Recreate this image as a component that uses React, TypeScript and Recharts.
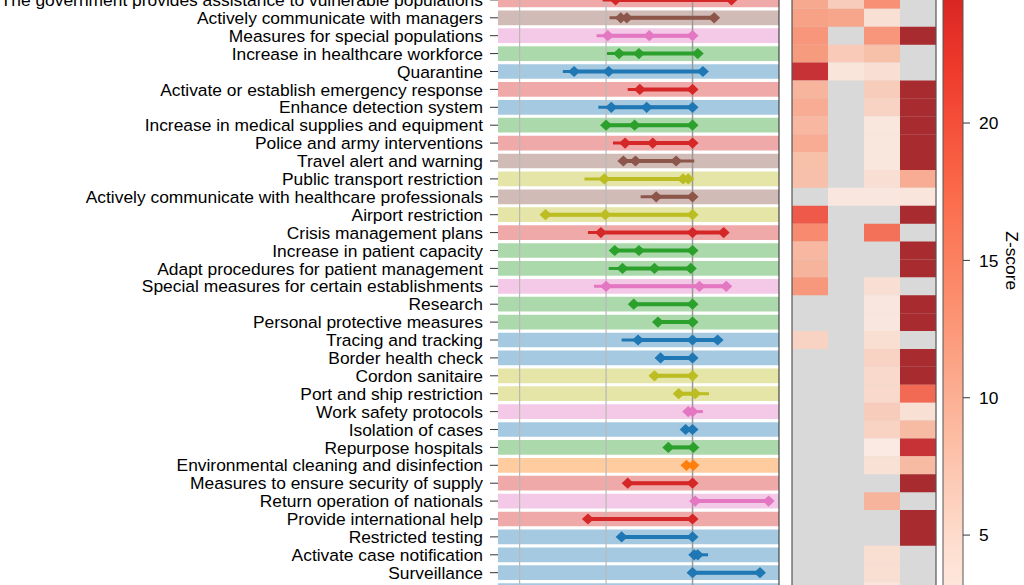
import React from 'react';
import { ScatterChart, Scatter, XAxis, YAxis, ReferenceArea, ReferenceLine } from 'recharts';

const measures = [
  'The government provides assistance to vulnerable populations',
  'Actively communicate with managers',
  'Measures for special populations',
  'Increase in healthcare workforce',
  'Quarantine',
  'Activate or establish emergency response',
  'Enhance detection system',
  'Increase in medical supplies and equipment',
  'Police and army interventions',
  'Travel alert and warning',
  'Public transport restriction',
  'Actively communicate with healthcare professionals',
  'Airport restriction',
  'Crisis management plans',
  'Increase in patient capacity',
  'Adapt procedures for patient management',
  'Special measures for certain establishments',
  'Research',
  'Personal protective measures',
  'Tracing and tracking',
  'Border health check',
  'Cordon sanitaire',
  'Port and ship restriction',
  'Work safety protocols',
  'Isolation of cases',
  'Repurpose hospitals',
  'Environmental cleaning and disinfection',
  'Measures to ensure security of supply',
  'Return operation of nationals',
  'Provide international help',
  'Restricted testing',
  'Activate case notification',
  'Surveillance',
  'National lockdown',
];

const themeOf = [
  'red', 'brown', 'pink', 'green', 'blue', 'red', 'blue', 'green', 'red', 'brown',
  'olive', 'brown', 'olive', 'red', 'green', 'green', 'pink', 'green', 'green', 'blue',
  'blue', 'olive', 'olive', 'pink', 'blue', 'green', 'orange', 'red', 'pink', 'red',
  'blue', 'blue', 'blue', 'blue',
];

const rangeLo = [
  -1.04, -0.96, -1.11, -0.99, -1.5, -0.75, -1.09, -1.03, -0.92, -0.84,
  -1.25, -0.6, -1.75, -1.21, -0.94, -0.97, -1.14, -0.68, -0.4, -0.82,
  -0.37, -0.44, -0.16, -0.05, -0.08, -0.28, -0.07, -0.75, 0.03, -1.21,
  -0.82, 0.02, 0.0, null,
];
const rangeHi = [
  0.45, 0.25, 0.0, 0.06, 0.12, 0.0, 0.0, 0.0, 0.0, 0.02,
  0.0, 0.0, 0.0, 0.36, 0.0, -0.02, 0.39, 0.0, 0.0, 0.29,
  0.0, 0.0, 0.19, 0.12, 0.0, 0.01, 0.01, 0.0, 0.88, 0.0,
  0.0, 0.18, 0.78, null,
];
const effects: number[][] = [
  [-0.89, 0.45], [-0.83, -0.76, 0.25], [-0.98, -0.5, 0.0], [-0.85, -0.62, 0.06],
  [-1.37, -0.97, 0.12], [-0.61, 0.0], [-0.94, -0.53, 0.0], [-1.0, -0.67, 0.0],
  [-0.78, -0.46, 0.0], [-0.8, -0.66, -0.19], [-1.02, -0.11, -0.05], [-0.42, 0.0],
  [-1.7, -1.01, 0.0], [-1.06, 0.0, 0.36], [-0.9, -0.62, 0.0], [-0.81, -0.44, -0.02],
  [-1.0, 0.08, 0.39], [-0.68, 0.0], [-0.4, 0.0], [-0.63, 0.0, 0.29],
  [-0.37, 0.0], [-0.44, 0.0], [-0.16, 0.03], [-0.05, 0.0],
  [-0.08, 0.0], [-0.28, 0.01], [-0.07, 0.01], [-0.75, 0.0],
  [0.03, 0.88], [-1.21, 0.0], [-0.82, 0.0], [0.02, 0.06], [0.0, 0.78], [],
];

const zCol1 = [11.5, 12.5, 14, 13.3, 27.3, 10, 11.2, 9.8, 11.2, 8.8, 8.7, null, 21, 15.4, 9.8, 10.2, 13.7,
  null, null, 6, null, null, null, null, null, null, null, null, null, null, null, null, null, null];
const zCol2 = [7, 12, null, 7.3, 3.2, null, null, null, null, null, null, 2.5, null, null, null, null, null,
  null, null, null, null, null, null, null, null, null, null, null, null, null, null, null, null, null];
const zCol3 = [14.7, 4.2, 14, 8.8, 4.4, 7, 6, 2.8, 2.8, 2.8, 4.4, 2.5, null, 18.5, null, null, 4.4,
  2.4, 2.4, 4.5, 6, 5.3, 5.3, 7, 6, 1.8, 3.9, null, 10.2, null, null, 4.5, 4.5, 3];
const zCol4 = [null, null, 31, null, null, 31, 31, 31, 31, 31, 11.2, 2.9, 31, null, 31, 31, null,
  31, 31, null, 31, 31, 19.3, 4.2, 9.5, 27.3, 9.5, 31, null, 31, 31, null, null, null];
const zColumns = [zCol1, zCol2, zCol3, zCol4];

const xGrid = [-2, -1];
const xZero = 0;
const xDomain: [number, number] = [-2.25, 1];
const zTicks = [5, 10, 15, 20];
const zDomain: [number, number] = [0, 35];

const TAB: Record<string, string> = {
  blue: '#1f77b4', orange: '#ff7f0e', green: '#2ca02c', red: '#d62728',
  pink: '#e377c2', olive: '#bcbd22', brown: '#8c564b',
};
const REDS = ['#fff5f0', '#fee0d2', '#fcbba1', '#fc9272', '#fb6a4a', '#ef3b2c', '#cb181d', '#a50f15', '#67000d'];

function hexToRgb(h: string) {
  return [parseInt(h.slice(1, 3), 16), parseInt(h.slice(3, 5), 16), parseInt(h.slice(5, 7), 16)];
}
function reds(v: number) {
  const f = Math.max(0, Math.min(1, (v - zDomain[0]) / (zDomain[1] - zDomain[0])));
  const p = f * (REDS.length - 1);
  const i = Math.min(REDS.length - 2, Math.floor(p));
  const t = p - i;
  const a = hexToRgb(REDS[i]);
  const b = hexToRgb(REDS[i + 1]);
  const c = a.map((x, k) => Math.round(x + (b[k] - x) * t));
  return `rgb(${c[0]},${c[1]},${c[2]})`;
}

const FONT = '"Liberation Sans", Arial, Helvetica, sans-serif';
const FS = 17.4;
const ROW = 17.9;
const rowIdx = measures.map((_, i) => i);
const yDomain: [number, number] = [-1, 34];
const PLOT_H = (yDomain[1] - yDomain[0]) * ROW;
const MT = 10;
const CHART_TOP = -ROW - MT;
const CHART_H = PLOT_H + 2 * MT;

const Diamond = (props: any) => {
  const { cx, cy, fill } = props;
  if (cx == null || cy == null) return <g />;
  const rx = 6;
  const ry = 5.6;
  return <polygon points={`${cx},${cy - ry} ${cx + rx},${cy} ${cx},${cy + ry} ${cx - rx},${cy}`} fill={fill} />;
};
const NoMark = () => <g />;

export default function App() {
  const thin = rowIdx
    .filter((r) => rangeLo[r] != null)
    .map((r) => ({ r, data: [{ x: rangeLo[r] as number, y: r }, { x: rangeHi[r] as number, y: r }] }));
  const thick = rowIdx
    .filter((r) => effects[r].length > 0)
    .map((r) => ({ r, data: [...effects[r]].sort((a, b) => a - b).map((x) => ({ x, y: r })) }));

  // colorbar geometry: value 20 at y=123, 27.47 px per unit
  const PX = 27.47;
  const cbPlotTop = 123 - (zDomain[1] - 20) * PX;
  const cbPlotH = (zDomain[1] - zDomain[0]) * PX;
  const CB_MT = 5;

  return (
    <div style={{ position: 'fixed', left: 0, top: 0, width: 1024, height: 585, overflow: 'hidden', background: '#fff', fontFamily: FONT }}>
      <ScatterChart
        width={1024}
        height={CHART_H}
        margin={{ top: MT, bottom: MT, left: 0, right: 245 }}
        style={{ position: 'absolute', left: 0, top: CHART_TOP }}
      >
        <XAxis type="number" dataKey="x" domain={xDomain} hide allowDataOverflow />
        <YAxis
          type="number"
          dataKey="y"
          domain={yDomain}
          reversed
          allowDataOverflow
          ticks={rowIdx}
          interval={0}
          width={498}
          tickSize={8}
          tickMargin={7}
          axisLine={false}
          tickLine={{ stroke: '#333', strokeWidth: 1 }}
          tick={{ fontSize: FS, fill: '#000', fontFamily: FONT }}
          tickFormatter={(v: number) => measures[v] ?? ''}
        />
        {rowIdx.map((r) => (
          <ReferenceArea
            key={`band${r}`}
            x1={xDomain[0]}
            x2={xDomain[1]}
            y1={r - 0.41}
            y2={r + 0.41}
            fill={TAB[themeOf[r]]}
            fillOpacity={0.4}
            stroke="none"
          />
        ))}
        {xGrid.map((g) => (
          <ReferenceLine key={`g${g}`} x={g} stroke="#b8b8b8" strokeWidth={1.2} />
        ))}
        <ReferenceLine x={xZero} stroke="#999" strokeWidth={1.5} />
        <ReferenceLine x={xDomain[1]} stroke="#444" strokeWidth={1.2} />
        {thin.map(({ r, data }) => (
          <Scatter
            key={`thin${r}`}
            data={data}
            fill={TAB[themeOf[r]]}
            line={{ stroke: TAB[themeOf[r]], strokeWidth: 3 }}
            shape={NoMark}
            isAnimationActive={false}
          />
        ))}
        {thick.map(({ r, data }) => (
          <Scatter
            key={`thick${r}`}
            data={data}
            fill={TAB[themeOf[r]]}
            line={{ stroke: TAB[themeOf[r]], strokeWidth: 4 }}
            shape={Diamond}
            isAnimationActive={false}
          />
        ))}
      </ScatterChart>

      <ScatterChart
        width={148}
        height={CHART_H}
        margin={{ top: MT, bottom: MT, left: 2, right: 2 }}
        style={{ position: 'absolute', left: 790, top: CHART_TOP }}
      >
        <XAxis type="number" dataKey="x" domain={[0, 4]} hide allowDataOverflow />
        <YAxis type="number" dataKey="y" domain={yDomain} reversed hide allowDataOverflow />
        <ReferenceArea x1={0} x2={4} y1={yDomain[0]} y2={yDomain[1]} fill="#d9d9d9" fillOpacity={1} stroke="none" />
        {zColumns.map((col, c) =>
          col.map((v, r) =>
            v == null ? null : (
              <ReferenceArea
                key={`h${c}-${r}`}
                x1={c}
                x2={c + 1}
                y1={r - 0.5}
                y2={r + 0.5}
                fill={reds(v)}
                fillOpacity={0.86}
                stroke="none"
              />
            )
          )
        )}
        <ReferenceLine x={0} stroke="#555" strokeWidth={1.2} />
        <ReferenceLine x={4} stroke="#555" strokeWidth={1.2} />
        <Scatter data={[]} isAnimationActive={false} />
      </ScatterChart>

      <ScatterChart
        width={83}
        height={cbPlotH + 2 * CB_MT}
        margin={{ top: CB_MT, bottom: CB_MT, left: 2, right: 0 }}
        style={{ position: 'absolute', left: 941, top: cbPlotTop - CB_MT }}
      >
        <defs>
          <linearGradient id="zgrad" x1="0" y1="1" x2="0" y2="0">
            {REDS.map((c, i) => (
              <stop key={i} offset={i / (REDS.length - 1)} stopColor={c} />
            ))}
          </linearGradient>
        </defs>
        <XAxis type="number" dataKey="x" domain={[0, 1]} hide allowDataOverflow />
        <YAxis
          type="number"
          dataKey="y"
          orientation="right"
          domain={zDomain}
          allowDataOverflow
          ticks={zTicks}
          interval={0}
          width={61}
          tickSize={7}
          tickMargin={9}
          axisLine={false}
          tickLine={{ stroke: '#333', strokeWidth: 1 }}
          tick={{ fontSize: FS, fill: '#000', fontFamily: FONT }}
          label={{ value: 'Z-score', angle: 90, position: 'center', dx: 19, dy: 69, fontSize: FS, fill: '#000', fontFamily: FONT }}
        />
        <ReferenceArea x1={0} x2={1} y1={zDomain[0]} y2={zDomain[1]} fill="url(#zgrad)" fillOpacity={1} stroke="#555" strokeWidth={1} />
        <Scatter data={[]} isAnimationActive={false} />
      </ScatterChart>
    </div>
  );
}
